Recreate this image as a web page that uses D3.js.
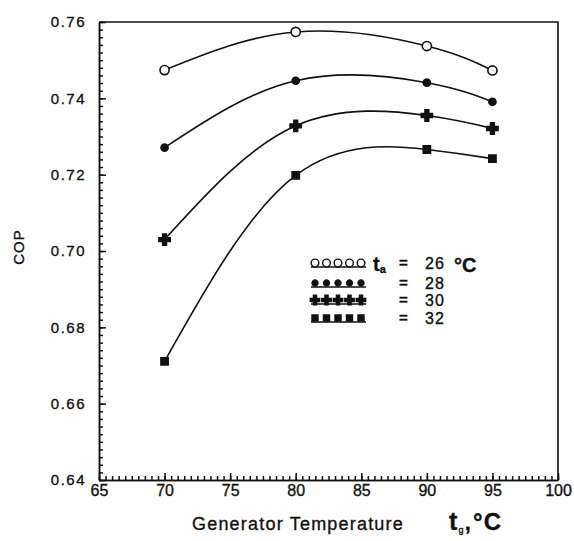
<!DOCTYPE html>
<html>
<head>
<meta charset="utf-8">
<script src="https://cdn.jsdelivr.net/npm/d3@7"></script>
<style>
  body { margin: 0; background: #fff; }
  text { font-family: "Liberation Sans", Arial, sans-serif; fill: #111; stroke: #111; stroke-width: 0.35px; }
</style>
</head>
<body>
<div id="chart"></div>
<script>
// generator temperature (deg C) and COP for each t_a
const genTemps = [70, 80, 90, 95];
const cop26 = [0.7474, 0.7574, 0.7537, 0.7473];
const cop28 = [0.7271, 0.7446, 0.7441, 0.7391];
const cop30 = [0.7030, 0.7328, 0.7355, 0.7321];
const cop32 = [0.6711, 0.7198, 0.7266, 0.7242];
const seriesLabels = ["26", "28", "30", "32"];

const xTickLabels = ["65", "70", "75", "80", "85", "90", "95", "100"];
const yTickLabels = ["0.64", "0.66", "0.68", "0.70", "0.72", "0.74", "0.76"];

const width = 574, height = 541;
const plotLeft = 99, plotRight = 558, plotTop = 22, plotBottom = 480;

const svg = d3.select("#chart").append("svg")
    .attr("width", width)
    .attr("height", height);

const x = d3.scaleLinear().domain([65, 100]).range([plotLeft, plotRight]);
const y = d3.scaleLinear().domain([0.64, 0.76]).range([plotBottom, plotTop]);

// frame
svg.append("path")
    .attr("d", `M${plotLeft},${plotTop}H${plotRight}V${plotBottom}`)
    .attr("fill", "none")
    .attr("stroke", "#111")
    .attr("stroke-width", 1.6);

// y axis: minor ticks, then labelled ticks
const yMinor = d3.range(0, 61).map(i => 0.64 + i * 0.002);
svg.append("g")
    .attr("transform", `translate(${plotLeft},0)`)
    .call(d3.axisLeft(y).tickValues(yMinor).tickSize(-4).tickSizeOuter(0).tickFormat(""))
    .call(g => g.selectAll("line,path").attr("stroke", "#111").attr("stroke-width", 1.5));

svg.append("g")
    .attr("transform", `translate(${plotLeft},0)`)
    .call(d3.axisLeft(y).tickValues(yTickLabels.map(Number)).tickSize(-7).tickSizeOuter(0)
        .tickPadding(13).tickFormat((d, i) => yTickLabels[i]))
    .call(g => g.selectAll("line,path").attr("stroke", "#111").attr("stroke-width", 1.5))
    .call(g => g.selectAll("text")
        .style("font-family", "'Liberation Sans', Arial, sans-serif")
        .style("font-size", "15px")
        .style("letter-spacing", "1.5px")
        .attr("fill", "#111"));

// x axis
const xMinor = d3.range(0, 71).map(i => 65 + i * 0.5);
svg.append("g")
    .attr("transform", `translate(0,${plotBottom})`)
    .call(d3.axisBottom(x).tickValues(xMinor).tickSize(-4).tickSizeOuter(0).tickFormat(""))
    .call(g => g.selectAll("line,path").attr("stroke", "#111").attr("stroke-width", 1.5));

svg.append("g")
    .attr("transform", `translate(0,${plotBottom})`)
    .call(d3.axisBottom(x).tickValues(xTickLabels.map(Number)).tickSize(-7).tickSizeOuter(0)
        .tickPadding(5).tickFormat((d, i) => xTickLabels[i]))
    .call(g => g.selectAll("line,path").attr("stroke", "#111").attr("stroke-width", 1.5))
    .call(g => g.selectAll("text")
        .style("font-family", "'Liberation Sans', Arial, sans-serif")
        .style("font-size", "16px")
        .attr("fill", "#111"));

// axis titles
svg.append("text")
    .attr("transform", "translate(24,247) rotate(-90)")
    .attr("text-anchor", "middle")
    .style("font-size", "15px")
    .style("letter-spacing", "1px")
    .text("COP");

const xTitle = svg.append("text")
    .attr("x", 192)
    .attr("y", 530)
    .style("font-size", "18px")
    .style("letter-spacing", "1.2px");
xTitle.append("tspan").text("Generator Temperature");
xTitle.append("tspan").attr("x", 449).style("font-size", "25px").style("font-weight", "bold").text("t");
xTitle.append("tspan").attr("dy", 3).style("font-size", "9px").text("g");
xTitle.append("tspan").attr("dy", -3).style("font-size", "22px").style("font-weight", "bold").text(",");
xTitle.append("tspan").attr("dx", 1).style("font-size", "24px").style("font-weight", "bold").text("°C");

// curves and markers
const series = [cop26, cop28, cop30, cop32].map((vals, i) => ({
    label: seriesLabels[i],
    points: genTemps.map((t, j) => ({ t: t, cop: vals[j] }))
}));

const symbolFor = [
    { type: d3.symbolCircle, size: 66, fill: "#fff" },
    { type: d3.symbolCircle, size: 40, fill: "#111" },
    { type: d3.symbolCross, size: 70, fill: "#111" },
    { type: d3.symbolSquare, size: 52, fill: "#111" }
];

const line = d3.line()
    .x(d => x(d.t))
    .y(d => y(d.cop))
    .curve(d3.curveNatural);

svg.append("g").selectAll("path")
    .data(series)
    .join("path")
    .attr("d", d => line(d.points))
    .attr("fill", "none")
    .attr("stroke", "#111")
    .attr("stroke-width", 1.6);

series.forEach((s, i) => {
    const sym = symbolFor[i];
    svg.append("g").selectAll("path")
        .data(s.points)
        .join("path")
        .attr("transform", d => `translate(${x(d.t)},${y(d.cop)})`)
        .attr("d", d3.symbol().type(sym.type).size(sym.size))
        .attr("fill", sym.fill)
        .attr("stroke", "#111")
        .attr("stroke-width", 1.6);
});

// legend
const legendRows = [263, 283, 300, 318];
const legend = svg.append("g");
series.forEach((s, i) => {
    const sym = symbolFor[i];
    const ly = legendRows[i];
    legend.append("line")
        .attr("x1", 311).attr("x2", 366)
        .attr("y1", ly + 4).attr("y2", ly + 4)
        .attr("stroke", "#111")
        .attr("stroke-width", 1.5);
    legend.selectAll(null)
        .data(d3.range(5))
        .join("path")
        .attr("transform", k => `translate(${315 + k * 11.5},${ly})`)
        .attr("d", d3.symbol().type(sym.type).size(sym.size * 0.7))
        .attr("fill", sym.fill)
        .attr("stroke", "#111")
        .attr("stroke-width", 1.4);
    legend.append("text")
        .attr("x", 399).attr("y", ly + 5)
        .style("font-size", "15px")
        .style("font-weight", "bold")
        .text("=");
    legend.append("text")
        .attr("x", 425).attr("y", ly + 6)
        .style("font-size", "16px")
        .style("letter-spacing", "1px")
        .text(s.label);
});

const tLabel = legend.append("text")
    .attr("x", 373).attr("y", legendRows[0] + 8);
tLabel.append("tspan").style("font-size", "20px").style("font-weight", "bold").text("t");
tLabel.append("tspan").attr("dy", 2).style("font-size", "11px").style("font-weight", "bold").text("a");

legend.append("text")
    .attr("x", 454).attr("y", legendRows[0] + 9)
    .style("font-size", "20px")
    .style("font-weight", "bold")
    .text("°C");
</script>
</body>
</html>
